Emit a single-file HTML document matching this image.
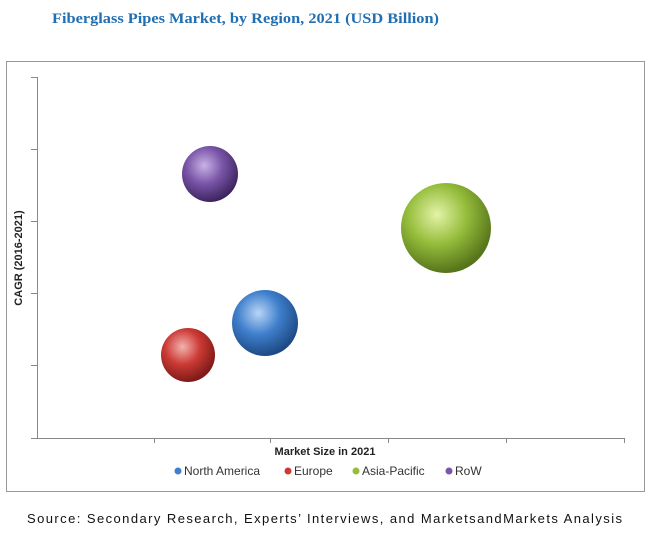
<!DOCTYPE html>
<html><head><meta charset="utf-8"><style>
body{margin:0;background:#fff;width:650px;height:530px;overflow:hidden}
</style></head><body>
<svg width="650" height="530" viewBox="0 0 650 530" xmlns="http://www.w3.org/2000/svg">
<defs>
<radialGradient id="gp" cx="0.4" cy="0.35" r="0.65"><stop offset="0" stop-color="#c9b3e6"/><stop offset="0.5" stop-color="#7a55a8"/><stop offset="1" stop-color="#3e2560"/></radialGradient>
<radialGradient id="gg" cx="0.4" cy="0.35" r="0.65"><stop offset="0" stop-color="#e4f3a8"/><stop offset="0.5" stop-color="#96be3c"/><stop offset="1" stop-color="#56741a"/></radialGradient>
<radialGradient id="gb" cx="0.4" cy="0.35" r="0.65"><stop offset="0" stop-color="#b8d6f6"/><stop offset="0.5" stop-color="#3f7fcc"/><stop offset="1" stop-color="#1d4a85"/></radialGradient>
<radialGradient id="gr" cx="0.4" cy="0.35" r="0.65"><stop offset="0" stop-color="#f3b3b0"/><stop offset="0.5" stop-color="#cc3a35"/><stop offset="1" stop-color="#7e1a18"/></radialGradient>
</defs>
<text x="52" y="23" font-family="Liberation Serif, serif" font-weight="bold" font-size="15" fill="#1f6fb2" textLength="387" lengthAdjust="spacingAndGlyphs">Fiberglass Pipes Market, by Region, 2021 (USD Billion)</text>
<rect x="6.5" y="61.5" width="638" height="430" fill="#fff" stroke="#999" stroke-width="1"/>
<g stroke="#888" stroke-width="1">
<line x1="37.5" y1="77" x2="37.5" y2="438"/>
<line x1="31" y1="438.5" x2="624" y2="438.5"/>
<line x1="31" y1="77.5" x2="37" y2="77.5"/><line x1="31" y1="149.5" x2="37" y2="149.5"/><line x1="31" y1="221.5" x2="37" y2="221.5"/><line x1="31" y1="293.5" x2="37" y2="293.5"/><line x1="31" y1="365.5" x2="37" y2="365.5"/>
<line x1="154.5" y1="438" x2="154.5" y2="443"/><line x1="270.5" y1="438" x2="270.5" y2="443"/><line x1="388.5" y1="438" x2="388.5" y2="443"/><line x1="506.5" y1="438" x2="506.5" y2="443"/><line x1="624.5" y1="438" x2="624.5" y2="443"/>
</g>
<text transform="translate(22,258) rotate(-90)" text-anchor="middle" font-family="Liberation Sans, sans-serif" font-weight="bold" font-size="11" fill="#222">CAGR (2016-2021)</text>
<text x="325" y="455" text-anchor="middle" font-family="Liberation Sans, sans-serif" font-weight="bold" font-size="11" fill="#222">Market Size in 2021</text>
<circle cx="210" cy="174" r="28" fill="url(#gp)"/>
<circle cx="446" cy="228" r="45" fill="url(#gg)"/>
<circle cx="265" cy="323" r="33" fill="url(#gb)"/>
<circle cx="188" cy="355" r="27" fill="url(#gr)"/>
<g font-family="Liberation Sans, sans-serif" font-size="12" fill="#333">
<circle cx="178" cy="471" r="3.5" fill="#3f7fcc"/><text x="184" y="475">North America</text>
<circle cx="288" cy="471" r="3.5" fill="#cc3a35"/><text x="294" y="475">Europe</text>
<circle cx="356" cy="471" r="3.5" fill="#96be3c"/><text x="362" y="475">Asia-Pacific</text>
<circle cx="449" cy="471" r="3.5" fill="#7a55a8"/><text x="455" y="475">RoW</text>
</g>
<text x="27" y="523" font-family="Liberation Sans, sans-serif" font-size="13" fill="#111" textLength="595" lengthAdjust="spacing">Source: Secondary Research, Experts’ Interviews, and MarketsandMarkets Analysis</text>
</svg>
</body></html>
